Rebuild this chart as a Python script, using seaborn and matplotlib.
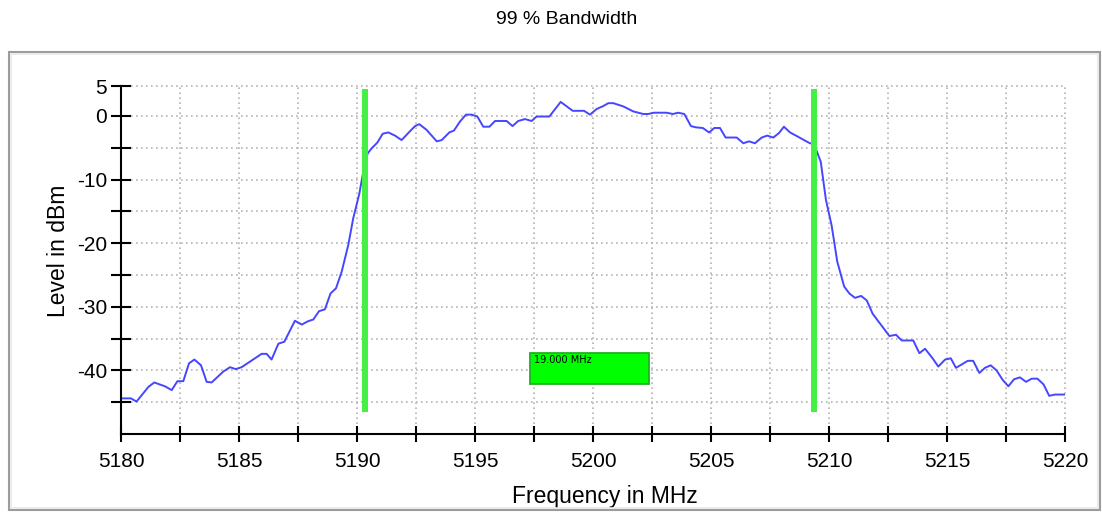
import numpy as np
import pandas as pd
import matplotlib
matplotlib.use("Agg")
import matplotlib.pyplot as plt
from matplotlib.patches import Rectangle
import seaborn as sns

# ---------------- data ----------------
freq = [5180.00, 5180.42, 5180.66, 5181.16, 5181.41, 5181.86, 5182.15, 5182.39, 5182.64, 5182.88,
        5183.11, 5183.39, 5183.63, 5183.84, 5184.33, 5184.62, 5184.86, 5185.11, 5185.96, 5186.17,
        5186.38, 5186.67, 5186.92, 5187.37, 5187.66, 5187.91, 5188.15, 5188.39, 5188.64, 5188.88,
        5189.11, 5189.35, 5189.63, 5189.84, 5190.10, 5190.24, 5190.45, 5190.62, 5190.86, 5191.09,
        5191.33, 5191.61, 5191.89, 5192.17, 5192.46, 5192.64, 5192.95, 5193.38, 5193.59, 5193.91,
        5194.11, 5194.36, 5194.62, 5194.86, 5195.10, 5195.35, 5195.61, 5195.85, 5196.34, 5196.59,
        5196.83, 5197.12, 5197.40, 5197.61, 5198.15, 5198.63, 5199.14, 5199.62, 5199.87, 5200.16,
        5200.41, 5200.65, 5200.86, 5201.28, 5201.71, 5202.13, 5202.34, 5202.58, 5203.12, 5203.38,
        5203.61, 5203.87, 5204.15, 5204.36, 5204.65, 5204.92, 5205.14, 5205.38, 5205.62, 5206.09,
        5206.37, 5206.61, 5206.86, 5207.15, 5207.38, 5207.64, 5207.88, 5208.09, 5208.35, 5208.70,
        5208.94, 5209.19, 5209.36, 5209.65, 5209.87, 5210.11, 5210.35, 5210.64, 5210.86, 5211.10,
        5211.36, 5211.60, 5211.85, 5212.56, 5212.84, 5213.08, 5213.57, 5213.83, 5214.07, 5214.39,
        5214.63, 5214.92, 5215.16, 5215.38, 5215.88, 5216.11, 5216.37, 5216.61, 5216.85, 5217.10,
        5217.36, 5217.60, 5217.84, 5218.09, 5218.35, 5218.59, 5218.83, 5219.09, 5219.33, 5219.58,
        5220.00]
level = [-44.4, -44.4, -44.9, -42.6, -41.9, -42.5, -43.1, -41.7, -41.7, -38.9,
         -38.3, -39.2, -41.8, -41.9, -40.2, -39.5, -39.8, -39.5, -37.4, -37.4,
         -38.3, -35.8, -35.5, -32.2, -32.8, -32.3, -32.0, -30.7, -30.4, -27.9,
         -27.1, -24.5, -20.3, -16.1, -12.2, -9.3, -5.9, -5.1, -4.2, -2.8,
         -2.6, -3.1, -3.8, -2.7, -1.6, -1.3, -2.2, -4.0, -3.8, -2.6,
         -2.3, -0.9, 0.2, 0.2, -0.1, -1.7, -1.7, -0.8, -0.8, -1.6,
         -0.8, -0.5, -0.8, -0.1, -0.1, 2.2, 0.8, 0.8, 0.2, 1.1,
         1.5, 2.0, 2.0, 1.5, 0.7, 0.3, 0.3, 0.5, 0.5, 0.3,
         0.5, 0.3, -1.6, -1.8, -1.9, -2.6, -1.9, -1.9, -3.4, -3.4,
         -4.3, -4.0, -4.3, -3.4, -3.1, -3.4, -2.7, -1.7, -2.6, -3.3,
         -3.8, -4.3, -4.4, -7.2, -13.2, -17.2, -22.9, -26.8, -27.9, -28.6,
         -28.3, -29.0, -31.1, -34.6, -34.4, -35.3, -35.3, -37.3, -36.6, -38.1,
         -39.4, -38.3, -38.1, -39.6, -38.5, -38.5, -40.4, -39.6, -39.2, -40.0,
         -41.5, -42.5, -41.4, -41.1, -41.8, -41.3, -41.3, -42.2, -44.0, -43.8,
         -43.8]
markers = [5190.35, 5209.35]
x_ticks = list(np.arange(5180, 5220.1, 2.5))
x_labels = ["5180", "", "5185", "", "5190", "", "5195", "", "5200", "",
            "5205", "", "5210", "", "5215", "", "5220"]
y_ticks = [4.7, 0, -5, -10, -15, -20, -25, -30, -35, -40, -45]
y_labels = ["5", "0", "", "-10", "", "-20", "", "-30", "", "-40", ""]

# ---------------- style ----------------
sns.set_theme(style="white")
plt.rcParams["font.family"] = ["Liberation Sans", "DejaVu Sans"]

W, H = 1102, 512
fig = plt.figure(figsize=(W / 100, H / 100), dpi=100)
fig.patch.set_facecolor("white")

# outer frame
fig.patches.append(Rectangle((9 / W, 1 - 510 / H), 1091 / W, 458 / H, transform=fig.transFigure,
                             fill=False, edgecolor="#9c9c9c", linewidth=1.5, zorder=0))
fig.patches.append(Rectangle((11 / W, 1 - 508 / H), 1087 / W, 454 / H, transform=fig.transFigure,
                             fill=False, edgecolor="#e8e8e8", linewidth=1.2, zorder=0))

fig.text(567 / W, 1 - 20 / H, "99 % Bandwidth", ha="center", va="center", fontsize=14, color="black")

ax = fig.add_axes([121 / W, 78 / H, 944 / W, 348 / H])
ax.set_facecolor("white")

df = pd.DataFrame({"Frequency in MHz": freq, "Level in dBm": level})
sns.lineplot(data=df, x="Frequency in MHz", y="Level in dBm", ax=ax, color="#4646ff",
             linewidth=1.4, zorder=3)

vl = ax.vlines(markers, -46.6, 4.2, colors="#44f044", linewidth=4.3, zorder=4)
vl.set_capstyle("butt")

# bandwidth box centred between markers
bw = markers[1] - markers[0]
cx = (markers[0] + markers[1]) / 2
bw_w = 5.07
ax.add_patch(Rectangle((cx - bw_w / 2, -42.1), bw_w, 4.85, facecolor="#00ff00",
                       edgecolor="#22b022", linewidth=1.3, zorder=5))
ax.text(cx - bw_w / 2 + 0.17, -38.3, f"{bw:.3f} MHz", fontsize=7, family=["DejaVu Sans"],
        ha="left", va="center", color="black", zorder=6)

ax.set_xlim(5180, 5220)
ax.set_ylim(-50, 4.7)
ax.set_xticks(x_ticks)
ax.set_xticklabels(x_labels)
ax.set_yticks(y_ticks)
ax.set_yticklabels(y_labels)

ax.grid(True, color="#b4b4b4", linestyle=(0, (1, 2)), linewidth=1.2)
for gl in ax.get_xgridlines() + ax.get_ygridlines():
    gl.set_clip_on(False)

for s in ["top", "right"]:
    ax.spines[s].set_visible(False)
for s in ["left", "bottom"]:
    ax.spines[s].set_color("black")
    ax.spines[s].set_linewidth(1.5)
    ax.spines[s].set_zorder(6)

ax.tick_params(axis="both", bottom=True, left=True, direction="inout", width=1.5,
               color="black", labelsize=15, labelcolor="black")
ax.tick_params(axis="x", length=12, pad=7)
ax.tick_params(axis="y", length=14, pad=3)

ax.set_xlabel("Frequency in MHz", fontsize=16.5, color="black")
ax.xaxis.set_label_coords((604.5 - 121) / 944, (434 - 497) / 348)
ax.xaxis.label.set_verticalalignment("center")
ax.set_ylabel("Level in dBm", fontsize=16.5, color="black")
ax.yaxis.set_label_coords((59 - 121) / 944, (434 - 251) / 348)
ax.yaxis.label.set_verticalalignment("center")

fig.savefig("out.png", dpi=100, facecolor="white")
